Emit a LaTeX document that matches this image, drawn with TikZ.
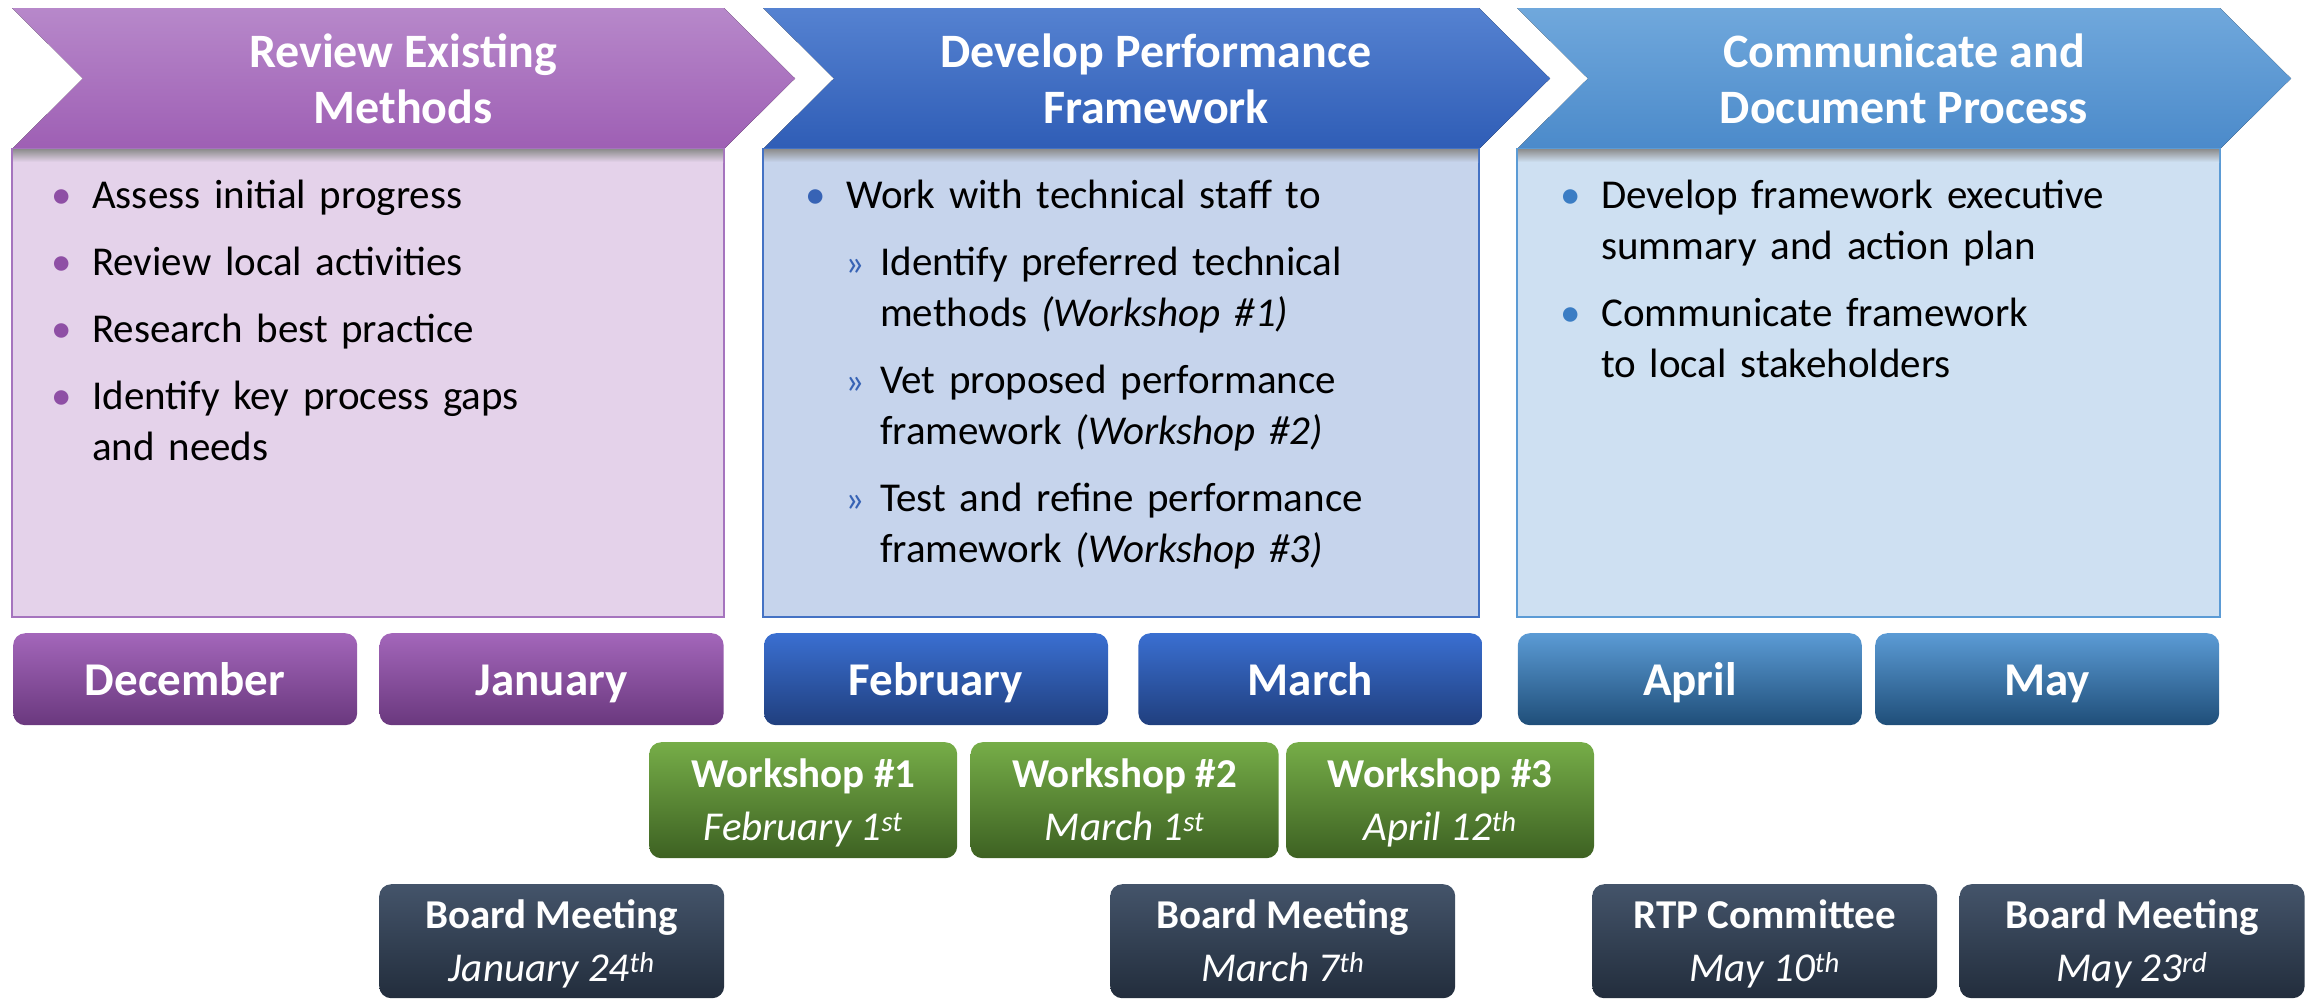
\documentclass[tikz,border=0pt]{standalone}
\usepackage{fontspec}
\setmainfont{Carlito}
\usepackage{enumitem}
\usetikzlibrary{positioning}

\definecolor{revtop}{HTML}{B788CA}
\definecolor{revbot}{HTML}{9E5FB4}
\definecolor{revfill}{HTML}{E4D2EA}
\definecolor{revline}{HTML}{A574BE}
\definecolor{revbullet}{HTML}{8E4FA5}
\definecolor{revmtop}{HTML}{A366BA}
\definecolor{revmbot}{HTML}{6A387E}
\definecolor{devtop}{HTML}{5582D1}
\definecolor{devbot}{HTML}{2F5DB6}
\definecolor{devfill}{HTML}{C6D4EC}
\definecolor{devline}{HTML}{4472C4}
\definecolor{devbullet}{HTML}{3763B5}
\definecolor{devmtop}{HTML}{3A6FD1}
\definecolor{devmbot}{HTML}{203F7E}
\definecolor{comtop}{HTML}{70A8DC}
\definecolor{combot}{HTML}{4B8ACA}
\definecolor{comfill}{HTML}{CEE0F2}
\definecolor{comline}{HTML}{5B9BD5}
\definecolor{combullet}{HTML}{3B7DC4}
\definecolor{commtop}{HTML}{5B9BD5}
\definecolor{commbot}{HTML}{1F4E79}
\definecolor{greentop}{HTML}{76AD48}
\definecolor{greenbot}{HTML}{3D6122}
\definecolor{slatetop}{HTML}{44546A}
\definecolor{slatebot}{HTML}{222D3C}

\setlist[itemize,1]{nosep, itemsep=16pt, leftmargin=30pt, labelsep=20pt}
\setlist[itemize,2]{nosep, topsep=16pt, itemsep=16pt, leftmargin=34pt, labelsep=16pt,
  label=\textcolor{devbullet}{\fontsize{37}{37}\selectfont »}}

\tikzset{
  phasearrow/.style 2 args={insert path={(#1,8) -- (#2,8) -- (#2+71,78.5) -- (#2,149)
      -- (#1,149) -- (#1+71,78.5) -- cycle}},
  header/.style={text=white, align=center, font=\bfseries\fontsize{48}{56}\selectfont},
  panel/.style={line width=1.5pt},
  bullets/.style={anchor=north west, inner sep=0pt, text width=#1,
    font=\fontsize{41}{51}\selectfont},
  tile/.style={rounded corners=12pt, inner sep=0pt, text=white, align=center},
  monthbox/.style={tile, minimum width=344pt, minimum height=92pt,
    text height=32pt, text depth=0pt, font=\bfseries\fontsize{47}{56}\selectfont},
  eventbox/.style={tile, text height=80pt, text depth=0pt,
    font=\fontsize{41}{53}\selectfont},
  workshop/.style={eventbox, minimum width=308pt, minimum height=116pt,
    top color=greentop, bottom color=greenbot},
  meeting/.style={eventbox, minimum width=345pt, minimum height=114pt,
    top color=slatetop, bottom color=slatebot}
}

\begin{document}
\begin{tikzpicture}[x=1pt,y=-1pt]
  \useasboundingbox (0,0) rectangle (2310,999);

  % phase arrows
  \fill[top color=revtop, bottom color=revbot, phasearrow={12}{724}];
  \fill[top color=devtop, bottom color=devbot, phasearrow={763}{1479}];
  \fill[top color=comtop, bottom color=combot, phasearrow={1517}{2220}];

  \node[header] (hdrreview)  at (403,79)  {Review Existing\\Methods};
  \node[header] (hdrdevelop) at (1156,79) {Develop Performance\\Framework};
  \node[header] (hdrcomm)    at (1904,79) {Communicate and\\Document Process};

  % task panels
  \draw[panel, fill=revfill, draw=revline] (12,149) rectangle (724,617);
  \draw[panel, fill=devfill, draw=devline] (763,149) rectangle (1479,617);
  \draw[panel, fill=comfill, draw=comline] (1517,149) rectangle (2220,617);
  \fill[top color=black!45, bottom color=revfill] (13,149) rectangle (723,162);
  \fill[top color=black!45, bottom color=devfill] (764,149) rectangle (1478,162);
  \fill[top color=black!45, bottom color=comfill] (1518,149) rectangle (2219,162);

  \node[bullets=650pt] (revtext) at (62,157) {%
    \begin{itemize}[label=\textcolor{revbullet}{\textbullet}]
      \item Assess initial progress
      \item Review local activities
      \item Research best practice
      \item Identify key process gaps\\and needs
    \end{itemize}};
  \node[bullets=650pt] (devtext) at (816,157) {%
    \begin{itemize}[label=\textcolor{devbullet}{\textbullet}]
      \item Work with technical staff to
      \begin{itemize}
        \item Identify preferred technical\\methods \textit{(Workshop \#1)}
        \item Vet proposed performance\\framework \textit{(Workshop \#2)}
        \item Test and refine performance\\framework \textit{(Workshop \#3)}
      \end{itemize}
    \end{itemize}};
  \node[bullets=640pt] (comtext) at (1571,157) {%
    \begin{itemize}[label=\textcolor{combullet}{\textbullet}]
      \item Develop framework executive\\summary and action plan
      \item Communicate framework\\to local stakeholders
    \end{itemize}};

  % months
  \node[monthbox, top color=revmtop, bottom color=revmbot, anchor=north west]
    (dec) at (13,633) {December};
  \node[monthbox, top color=revmtop, bottom color=revmbot] (jan) [right=22pt of dec] {January};
  \node[monthbox, top color=devmtop, bottom color=devmbot] (feb) [right=40pt of jan] {February};
  \node[monthbox, top color=devmtop, bottom color=devmbot] (mar) [right=30pt of feb] {March};
  \node[monthbox, top color=commtop, bottom color=commbot] (apr) [right=35pt of mar] {April};
  \node[monthbox, top color=commtop, bottom color=commbot] (may) [right=13pt of apr] {May};

  % workshops
  \node[workshop, anchor=north west] (ws1) at (649,742)
    {\textbf{Workshop \#1}\\\textit{February 1\textsuperscript{st}}};
  \node[workshop] (ws2) [right=13pt of ws1]
    {\textbf{Workshop \#2}\\\textit{March 1\textsuperscript{st}}};
  \node[workshop] (ws3) [right=7pt of ws2]
    {\textbf{Workshop \#3}\\\textit{April 12\textsuperscript{th}}};

  % meetings
  \node[meeting, anchor=north west] (board1) at (379,884)
    {\textbf{Board Meeting}\\\textit{January 24\textsuperscript{th}}};
  \node[meeting, anchor=north west] (board2) at (1110,884)
    {\textbf{Board Meeting}\\\textit{March 7\textsuperscript{th}}};
  \node[meeting, anchor=north west] (rtp) at (1592,884)
    {\textbf{RTP Committee}\\\textit{May 10\textsuperscript{th}}};
  \node[meeting] (board3) [right=22pt of rtp]
    {\textbf{Board Meeting}\\\textit{May 23\textsuperscript{rd}}};
\end{tikzpicture}
\end{document}
